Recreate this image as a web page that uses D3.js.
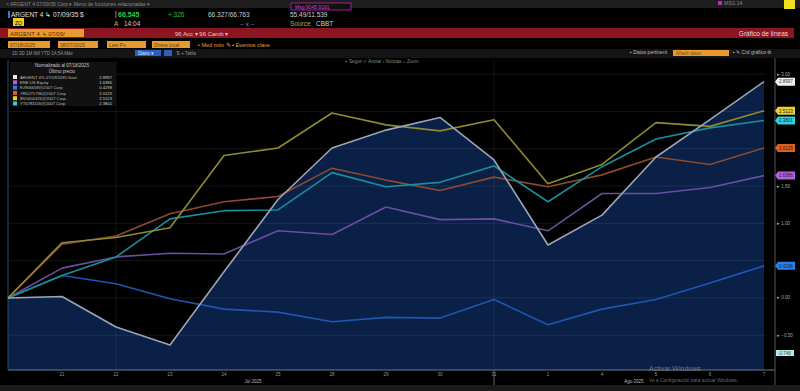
<!DOCTYPE html>
<html>
<head>
<meta charset="utf-8">
<script src="https://cdn.jsdelivr.net/npm/d3@7"></script>
<style>
  body { margin: 0; background: #000; overflow: hidden; }
  svg { display: block; font-family: "Liberation Sans", Arial, sans-serif; }
</style>
</head>
<body>
<svg></svg>
<script>
// dates (normalised at 07/18/2025)
var dates = ["07/18","07/21","07/22","07/23","07/24","07/25","07/28","07/29","07/30","07/31","08/01","08/04","08/05","08/06","08/07"]
var tickLabels = ["","21","22","23","24","25","28","29","30","31","1","4","5","6","7"]

var argent = [0, 0.02, -0.39, -0.63, 0.35, 1.32, 2.01, 2.25, 2.42, 1.85, 0.71, 1.11, 1.89, 2.39, 2.90]
var seriesYellow = [0, 0.74, 0.81, 0.94, 1.91, 2.01, 2.48, 2.32, 2.24, 2.39, 1.53, 1.79, 2.35, 2.30, 2.51]
var seriesOrange = [0, 0.72, 0.83, 1.13, 1.29, 1.36, 1.74, 1.58, 1.44, 1.62, 1.49, 1.65, 1.89, 1.79, 2.01]
var seriesCyan = [0, 0.30, 0.55, 1.06, 1.17, 1.18, 1.68, 1.49, 1.55, 1.77, 1.29, 1.76, 2.13, 2.28, 2.38]
var seriesPurple = [0, 0.40, 0.55, 0.60, 0.59, 0.90, 0.85, 1.22, 1.05, 1.06, 0.90, 1.40, 1.40, 1.48, 1.64]
var seriesBlue = [0, 0.30, 0.19, -0.01, -0.15, -0.19, -0.32, -0.26, -0.27, -0.02, -0.36, -0.15, -0.02, 0.20, 0.43]

var legendNames = ["ARGENT 4% 07/09/2035 Govt","ENE US Equity","EJ906658@2007 Corp","YR0271796@2007 Corp","BV0604426@2007 Corp","YT6781105@2007 Corp"]
var legendValues = ["2.8997","1.6386","0.4298","2.0125","2.5123","2.3801"]
var yTicks = [3.0, 2.5, 2.0, 1.5, 1.0, 0.5, 0.0, -0.5]

var dimensions = { width: 800, height: 391 }
var svg = d3.select("svg").attr("width", dimensions.width).attr("height", dimensions.height)

svg.append("rect").attr("width", 800).attr("height", 391).attr("fill", "#000")

// ---------- header ----------
svg.append("rect").attr("x", 0).attr("y", 0).attr("width", 800).attr("height", 8).attr("fill", "#1e1e1e")
svg.append("text").attr("x", 6).attr("y", 6).attr("font-size", 5).attr("fill", "#8a8a8a")
   .text("< ARGENT 4 07/09/35 Corp ▾   Menú de funciones relacionadas ▾")
svg.append("rect").attr("x", 291).attr("y", 3).attr("width", 60).attr("height", 7).attr("fill", "#111").attr("stroke", "#c020c0").attr("stroke-width", 0.8)
svg.append("text").attr("x", 295).attr("y", 8.5).attr("font-size", 5).attr("fill", "#d040d0").text("Msg 9045 9191")
svg.append("rect").attr("x", 718).attr("y", 1).attr("width", 4).attr("height", 4).attr("fill", "#d020c0")
svg.append("text").attr("x", 724).attr("y", 5).attr("font-size", 5).attr("fill", "#888").text("MSG 14")
svg.append("rect").attr("x", 784).attr("y", 0).attr("width", 11).attr("height", 9).attr("fill", "#f0e020")

svg.append("rect").attr("x", 8).attr("y", 11).attr("width", 2).attr("height", 7).attr("fill", "#3a7ad0")
svg.append("text").attr("x", 11).attr("y", 17).attr("font-size", 6.5).attr("fill", "#e0e0e0").text("ARGENT 4 ↳ 07/09/35 $")
svg.append("rect").attr("x", 115).attr("y", 11).attr("width", 1.5).attr("height", 7).attr("fill", "#e02020")
svg.append("text").attr("x", 118).attr("y", 17).attr("font-size", 7).attr("font-weight", "bold").attr("fill", "#20d040").text("66.545")
svg.append("text").attr("x", 168).attr("y", 17).attr("font-size", 6.5).attr("fill", "#20c040").text("+.326")
svg.append("text").attr("x", 208).attr("y", 17).attr("font-size", 6.5).attr("fill", "#cfcfcf").text("66.327/66.763")
svg.append("text").attr("x", 290).attr("y", 17).attr("font-size", 6.5).attr("fill", "#cfcfcf").text("55.49/11.539")

svg.append("rect").attr("x", 13).attr("y", 18).attr("width", 11).attr("height", 8).attr("fill", "#e8d020")
svg.append("text").attr("x", 15).attr("y", 24.5).attr("font-size", 5).attr("fill", "#000").text("ZQ")
svg.append("text").attr("x", 114).attr("y", 26).attr("font-size", 6.5).attr("fill", "#e0a040").text("A")
svg.append("text").attr("x", 124).attr("y", 26).attr("font-size", 6.5).attr("fill", "#cfcfcf").text("14:04")
svg.append("text").attr("x", 240).attr("y", 26).attr("font-size", 6).attr("fill", "#aaa").text("-- x --")
svg.append("text").attr("x", 290).attr("y", 26).attr("font-size", 6.5).attr("fill", "#c8a040").text("Source")
svg.append("text").attr("x", 316).attr("y", 26).attr("font-size", 6.5).attr("fill", "#cfcfcf").text("CBBT")

// red bar
svg.append("rect").attr("x", 0).attr("y", 28).attr("width", 794).attr("height", 10).attr("fill", "#8c1520")
svg.append("rect").attr("x", 8).attr("y", 29).attr("width", 76).attr("height", 8).attr("fill", "#e89a30")
svg.append("text").attr("x", 10).attr("y", 35.5).attr("font-size", 6).attr("fill", "#5a2a00").text("ARGENT 4 ↳ 07/09/")
svg.append("text").attr("x", 175).attr("y", 35.5).attr("font-size", 6).attr("fill", "#e8c8c8").text("96 Acc ▾   96 Camb ▾")
svg.append("text").attr("x", 788).attr("y", 35.5).attr("font-size", 6.5).attr("text-anchor", "end").attr("fill", "#f0d8d8").text("Gráfico de líneas")

// controls row
var inputs = [[8, 42, "07/18/2025"], [58, 40, "08/07/2025"], [107, 39, "Last Px"], [152, 38, "Divisa local"]]
inputs.forEach(function(b) {
    svg.append("rect").attr("x", b[0]).attr("y", 41).attr("width", b[1]).attr("height", 7).attr("fill", "#e89a30")
    svg.append("text").attr("x", b[0] + 2).attr("y", 46.5).attr("font-size", 5).attr("fill", "#6a3a00").text(b[2])
})
svg.append("text").attr("x", 198).attr("y", 46.5).attr("font-size", 5.5).attr("fill", "#e0a030").text("▪ Med móv ✎  ▪ Eventos clave")
svg.append("rect").attr("x", 0).attr("y", 49).attr("width", 800).attr("height", 9).attr("fill", "#141414")
svg.append("text").attr("x", 630).attr("y", 54).attr("font-size", 5).attr("fill", "#bbb").text("▪ Datos pertinent")
svg.append("rect").attr("x", 673).attr("y", 50).attr("width", 56).attr("height", 6).attr("fill", "#e89a30")
svg.append("text").attr("x", 676).attr("y", 55).attr("font-size", 4.5).attr("fill", "#7a4a10").text("Añadir datos")
svg.append("text").attr("x", 733).attr("y", 54).attr("font-size", 5).attr("fill", "#bbb").text("▪ ✎ Crd gráfico ⚙")
svg.append("text").attr("x", 12).attr("y", 54.5).attr("font-size", 4.5).attr("fill", "#999")
   .text("1D   3D   1M   6M   YTD   1A   5A   Máx")
svg.append("rect").attr("x", 135).attr("y", 50).attr("width", 26).attr("height", 6).attr("fill", "#2a5fc0")
svg.append("text").attr("x", 138).attr("y", 55).attr("font-size", 4.5).attr("fill", "#e0e8ff").text("Diario ▾")
svg.append("rect").attr("x", 164).attr("y", 50).attr("width", 8).attr("height", 6).attr("fill", "#2a5fc0")
svg.append("text").attr("x", 176).attr("y", 55).attr("font-size", 4.5).attr("fill", "#999").text("⇅    +    Tabla")
svg.append("text").attr("x", 345).attr("y", 63).attr("font-size", 4.5).attr("fill", "#888")
   .text("+ Seguir  ✓ Anotar  ▫ Noticias  ⌕ Zoom")

// ---------- chart ----------
var xScale = d3.scalePoint().domain(dates).range([8, 764])
var yScale = d3.scaleLinear().domain([-0.966, 3.19]).range([370, 60])

var chart = svg.append("g")

var area = d3.area().x((d, i) => xScale(dates[i])).y0(370).y1(d => yScale(d))
chart.append("path").attr("d", area(argent)).attr("fill", "#0a2046")

// gridlines
chart.selectAll(".grid").data(yTicks).enter().append("line")
     .attr("x1", 8).attr("x2", 766)
     .attr("y1", d => yScale(d)).attr("y2", d => yScale(d))
     .attr("stroke", "#ffffff").attr("stroke-opacity", 0.08).attr("stroke-width", 1)

// vertical separators
chart.selectAll(".vsep").data(["07/22", "07/31"]).enter().append("line")
     .attr("x1", d => xScale(d)).attr("x2", d => xScale(d))
     .attr("y1", 60).attr("y2", 370)
     .attr("stroke", "#ffffff").attr("stroke-opacity", 0.07)
chart.append("line").attr("x1", 8).attr("x2", 8).attr("y1", 60).attr("y2", 370).attr("stroke", "#1e4a78").attr("stroke-width", 1)

var line = d3.line().x((d, i) => xScale(dates[i])).y(d => yScale(d))
var seriesList = [
    { values: seriesBlue, color: "#1f56b0" },
    { values: seriesPurple, color: "#6a4ea0" },
    { values: seriesOrange, color: "#8c4a2e" },
    { values: seriesCyan, color: "#1a8e9c" },
    { values: seriesYellow, color: "#8e8a30" },
    { values: argent, color: "#9aa6b8" }
]
chart.selectAll(".series").data(seriesList).enter().append("path")
     .attr("d", d => line(d.values))
     .attr("fill", "none")
     .attr("stroke", d => d.color)
     .attr("stroke-width", 1.6)
     .attr("stroke-linejoin", "round")

// x axis
chart.append("line").attr("x1", 8).attr("x2", 775).attr("y1", 370).attr("y2", 370).attr("stroke", "#6a7a90").attr("stroke-width", 1)
chart.selectAll(".xtick").data(dates).enter().append("text")
     .attr("x", d => xScale(d)).attr("y", 376)
     .attr("text-anchor", "middle").attr("font-size", 4.5).attr("fill", "#999")
     .text((d, i) => tickLabels[i])
chart.append("text").attr("x", 253).attr("y", 383).attr("text-anchor", "middle").attr("font-size", 4.5).attr("fill", "#bbb").text("Jul 2025")
chart.append("text").attr("x", 634).attr("y", 383).attr("text-anchor", "middle").attr("font-size", 4.5).attr("fill", "#bbb").text("Ago 2025")
chart.append("line").attr("x1", 494).attr("x2", 494).attr("y1", 370).attr("y2", 385).attr("stroke", "#666")

// right axis
var tagColors = ["#f0f0f0", "#b060e0", "#2a80f0", "#e06020", "#e8d030", "#30d0e0"]
var tagSeries = [argent, seriesPurple, seriesBlue, seriesOrange, seriesYellow, seriesCyan]
var tagYs = tagSeries.map(s => yScale(s[s.length - 1]))

chart.append("line").attr("x1", 775).attr("x2", 775).attr("y1", 58).attr("y2", 385).attr("stroke", "#555").attr("stroke-width", 1)
// tick labels that sit under a value tag are hidden by it, as in the terminal
chart.selectAll(".ytick").data(yTicks.filter(t => tagYs.every(y => Math.abs(y - yScale(t)) > 6))).enter().append("text")
     .attr("x", 777).attr("y", d => yScale(d) + 1.5)
     .attr("font-size", 4.5).attr("fill", "#aaa")
     .text(d => "▸ " + d3.format(".2f")(d))

tagSeries.forEach(function(s, i) {
    var y = tagYs[i]
    chart.append("path")
         .attr("d", "M775," + y + "l3,-4h17v8h-17z")
         .attr("fill", tagColors[i])
    chart.append("text").attr("x", 779).attr("y", y + 1.8).attr("font-size", 4.5)
         .attr("fill", i == 0 ? "#333" : "#222").text(legendValues[i])
})
chart.append("rect").attr("x", 776).attr("y", 350).attr("width", 18).attr("height", 6).attr("fill", "#b8ece8")
chart.append("text").attr("x", 778).attr("y", 354.8).attr("font-size", 4.5).attr("fill", "#345").text("-0.748")

// legend
var legend = svg.append("g")
legend.append("rect").attr("x", 10).attr("y", 62).attr("width", 106).attr("height", 44).attr("fill", "#111")
legend.append("text").attr("x", 62).attr("y", 67).attr("text-anchor", "middle").attr("font-size", 4.5).attr("fill", "#ccc").text("Normalizado al 07/18/2025")
legend.append("text").attr("x", 62).attr("y", 72.5).attr("text-anchor", "middle").attr("font-size", 4.5).attr("fill", "#ccc").text("Último precio")
legendNames.forEach(function(n, i) {
    var y = 75 + i * 5.3
    legend.append("rect").attr("x", 13).attr("y", y).attr("width", 4).attr("height", 4).attr("fill", tagColors[i])
    legend.append("text").attr("x", 20).attr("y", y + 3.6).attr("font-size", 4.2).attr("fill", "#bbb").text(n)
    legend.append("text").attr("x", 112).attr("y", y + 3.6).attr("text-anchor", "end").attr("font-size", 4.2).attr("fill", "#ccc").text(legendValues[i])
})

// windows watermark + bottom strip
svg.append("text").attr("x", 649).attr("y", 371).attr("font-size", 7).attr("fill", "#8a8a8a").attr("fill-opacity", 0.8).text("Activar Windows")
svg.append("text").attr("x", 649).attr("y", 382).attr("font-size", 4.8).attr("fill", "#8a8a8a").attr("fill-opacity", 0.8).text("Ve a Configuración para activar Windows.")
svg.append("rect").attr("x", 0).attr("y", 385).attr("width", 800).attr("height", 6).attr("fill", "#1a1a1a")
</script>
</body>
</html>
